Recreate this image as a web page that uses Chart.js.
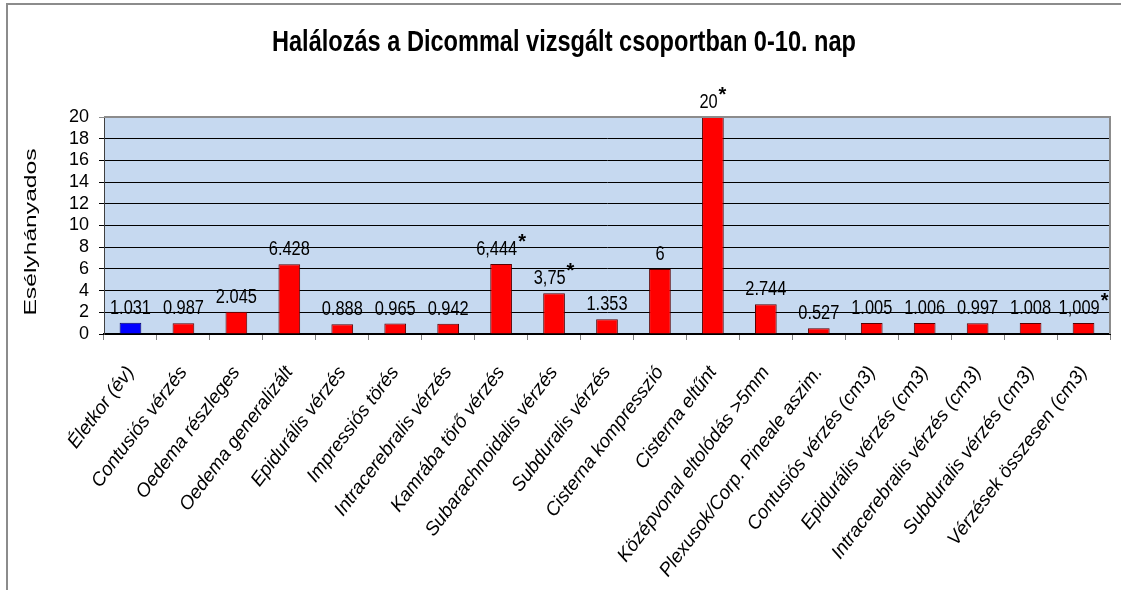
<!DOCTYPE html>
<html><head><meta charset="utf-8">
<script src="https://cdn.jsdelivr.net/npm/chart.js@4.4.0/dist/chart.umd.min.js"></script>
<style>
html,body{margin:0;padding:0;background:#fff;}
#wrap{position:relative;width:1121px;height:590px;overflow:hidden;}
#frame{position:absolute;left:6px;top:3px;width:1200px;height:700px;border-left:2px solid #8c8c8c;border-top:2px solid #8c8c8c;}
canvas{position:absolute;left:0;top:0;}
</style></head><body>
<div id="wrap"><div id="frame"></div><canvas id="c" width="1121" height="590"></canvas></div>
<script>
const chartTitle = 'Halálozás a Dicommal vizsgált csoportban 0-10. nap';
const yAxisTitle = 'Esélyhányados';
const categories = ['Életkor (év)','Contusiós vérzés','Oedema részleges','Oedema generalizált','Epidurális vérzés','Impressiós törés','Intracerebralis vérzés','Kamrába törő vérzés','Subarachnoidalis vérzés','Subduralis vérzés','Cisterna kompresszió','Cisterna eltűnt','Középvonal eltolódás >5mm','Plexusok/Corp. Pineale aszim.','Contusiós vérzés (cm3)','Epidurális vérzés (cm3)','Intracerebralis vérzés (cm3)','Subduralis vérzés (cm3)','Vérzések összesen (cm3)'];
const values = [1.031,0.987,2.045,6.428,0.888,0.965,0.942,6.444,3.75,1.353,6,20,2.744,0.527,1.005,1.006,0.997,1.008,1.009];
const valueLabels = ['1.031','0.987','2.045','6.428','0.888','0.965','0.942','6,444','3,75','1.353','6','20','2.744','0.527','1.005','1.006','0.997','1.008','1,009'];
const significant = [false,false,false,false,false,false,false,true,true,false,false,true,false,false,false,false,false,false,true];
const yTicks = [0,2,4,6,8,10,12,14,16,18,20];

const SANS = '"Liberation Sans",Arial,sans-serif';
const NARROW_SCALE = 0.82;

const plotBg = {
  id: 'plotBg',
  beforeDraw(chart) {
    const {ctx, chartArea: a} = chart;
    ctx.save();
    ctx.fillStyle = '#c6d9f0';
    ctx.fillRect(a.left, a.top, a.right - a.left, a.bottom - a.top);
    ctx.restore();
  },
  afterDraw(chart) {
    const {ctx, chartArea: a} = chart;
    ctx.save();
    ctx.strokeStyle = '#8c8c8c';
    ctx.lineWidth = 2;
    ctx.beginPath();
    ctx.moveTo(a.left, a.top);
    ctx.lineTo(a.right, a.top);
    ctx.lineTo(a.right, a.bottom);
    ctx.stroke();
    ctx.restore();

    // chart title (condensed bold)
    ctx.save();
    ctx.font = 'bold 30px ' + SANS;
    const tw = ctx.measureText(chartTitle).width;
    ctx.translate(564, 51);
    ctx.scale(584 / tw, 1);
    ctx.fillStyle = '#000';
    ctx.textAlign = 'center';
    ctx.textBaseline = 'alphabetic';
    ctx.fillText(chartTitle, 0, 0);
    ctx.restore();

    // y axis title, stretched along its length
    ctx.save();
    ctx.translate(31, 232);
    ctx.rotate(-Math.PI / 2);
    ctx.scale(1.45, 1);
    ctx.font = '17px ' + SANS;
    ctx.fillStyle = '#000';
    ctx.textAlign = 'center';
    ctx.textBaseline = 'middle';
    ctx.fillText(yAxisTitle, 0, 0);
    ctx.restore();
  }
};

const valueLabelPlugin = {
  id: 'valueLabels',
  afterDatasetsDraw(chart) {
    const {ctx} = chart;
    const meta = chart.getDatasetMeta(0);
    ctx.save();
    ctx.fillStyle = '#000';
    ctx.textBaseline = 'alphabetic';
    ctx.textAlign = 'left';
    meta.data.forEach((bar, i) => {
      const txt = valueLabels[i];
      ctx.font = '20px ' + SANS;
      const w1 = ctx.measureText(txt).width * NARROW_SCALE;
      let w2 = 0;
      if (significant[i]) {
        ctx.font = 'bold 20px ' + SANS;
        w2 = ctx.measureText('*').width + 1;
      }
      const x0 = bar.x - (w1 + w2) / 2;
      const base = bar.y - 9;
      ctx.save();
      ctx.translate(x0, base);
      ctx.scale(NARROW_SCALE, 1);
      ctx.font = '20px ' + SANS;
      ctx.fillText(txt, 0, 0);
      ctx.restore();
      if (significant[i]) {
        ctx.font = 'bold 20px ' + SANS;
        ctx.fillText('*', x0 + w1 + 1, base - 7);
      }
    });
    ctx.restore();
  }
};

new Chart(document.getElementById('c'), {
  type: 'bar',
  data: {
    labels: categories,
    datasets: [{
      data: values,
      backgroundColor: ctx => ctx.dataIndex === 0 ? '#0000ff' : '#ff0000',
      borderColor: ctx => ctx.dataIndex === 0 ? '#000066' : '#5a0000',
      borderWidth: 1,
      barPercentage: 0.41,
      categoryPercentage: 1
    }]
  },
  options: {
    responsive: false,
    animation: false,
    devicePixelRatio: 1,
    layout: {padding: {left: 40, right: 11, top: 117, bottom: 10}},
    plugins: {
      legend: {display: false},
      tooltip: {enabled: false},
      title: {display: false}
    },
    scales: {
      x: {
        grid: {offset: true, drawOnChartArea: false, color: '#808080', tickLength: 6},
        border: {color: '#000', width: 2},
        ticks: {
          autoSkip: false, maxRotation: 53, minRotation: 53, padding: 22,
          color: '#000',
          font: {family: SANS, size: 19, style: 'italic'}
        },
        afterFit(s) { s.height = 246; s.paddingLeft = 0; s.paddingRight = 0; }
      },
      y: {
        min: 0, max: 20,
        afterBuildTicks(s) { s.ticks = yTicks.map(v => ({value: v})); },
        grid: {
          color: c => (c.tick && c.tick.value === 20) ? '#8c8c8c' : '#000',
          tickLength: 5
        },
        border: {color: '#404040', width: 1},
        ticks: {autoSkip: false, color: '#000', padding: 10, font: {family: SANS, size: 18}},
        afterFit(s) { s.width = 64; s.paddingTop = 0; s.paddingBottom = 0; }
      }
    }
  },
  plugins: [plotBg, valueLabelPlugin]
});
</script>
</body></html>
